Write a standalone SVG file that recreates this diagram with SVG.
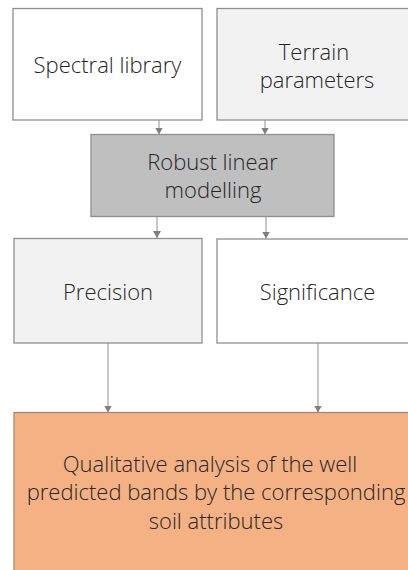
<svg xmlns="http://www.w3.org/2000/svg" width="408" height="570" viewBox="0 0 408 570">
<style>
.box{stroke:#8f8f8f;stroke-width:1.3}
.t{font-family:"Open Sans","Noto Sans","Liberation Sans",sans-serif;font-weight:300;font-size:22px;fill:#262626;text-anchor:middle}
.c{stroke:#a3a3a3;stroke-width:1.2;fill:none;marker-end:url(#ah)}
</style>
<defs>
<marker id="ah" viewBox="0 0 7 8" refX="7" refY="4" markerWidth="7" markerHeight="8" markerUnits="userSpaceOnUse" orient="auto">
<path d="M0,0 L7,4 L0,8 Z" fill="#7f7f7f"/>
</marker>
</defs>
<rect width="408" height="570" fill="#ffffff"/>
<g id="connectors">
<line class="c" x1="159" y1="120" x2="159" y2="134.5"/>
<line class="c" x1="265" y1="120" x2="265" y2="134.5"/>
<line class="c" x1="157" y1="216.5" x2="157" y2="238"/>
<line class="c" x1="266" y1="216.5" x2="266" y2="238.5"/>
<line class="c" x1="108" y1="343" x2="108" y2="412.5"/>
<line class="c" x1="318" y1="343" x2="318" y2="412.5"/>
</g>
<g id="spectral">
<rect class="box" x="13" y="8.5" width="189" height="111.5" fill="#ffffff"/>
<text class="t" x="107.5" y="73">Spectral library</text>
</g>
<g id="terrain">
<rect class="box" x="217" y="8.5" width="200" height="111.5" fill="#f2f2f2"/>
<text class="t" x="314" y="59.5">Terrain</text>
<text class="t" x="317" y="87.5">parameters</text>
</g>
<g id="robust">
<rect class="box" x="91" y="134.5" width="243" height="82" fill="#bfbfbf"/>
<text class="t" x="212.5" y="170">Robust linear</text>
<text class="t" x="213" y="198">modelling</text>
</g>
<g id="precision">
<rect class="box" x="14" y="238.5" width="188" height="104.5" fill="#f2f2f2"/>
<text class="t" x="108" y="299.5">Precision</text>
</g>
<g id="significance">
<rect class="box" x="217" y="239" width="200" height="104" fill="#ffffff"/>
<text class="t" x="317.5" y="299.5">Significance</text>
</g>
<g id="analysis">
<rect class="box" x="14" y="412.5" width="404" height="170" fill="#f4b183"/>
<text class="t" x="210" y="471.5">Qualitative analysis of the well</text>
<text class="t" x="216" y="500">predicted bands by the corresponding</text>
<text class="t" x="216" y="528.5">soil attributes</text>
</g>
</svg>
